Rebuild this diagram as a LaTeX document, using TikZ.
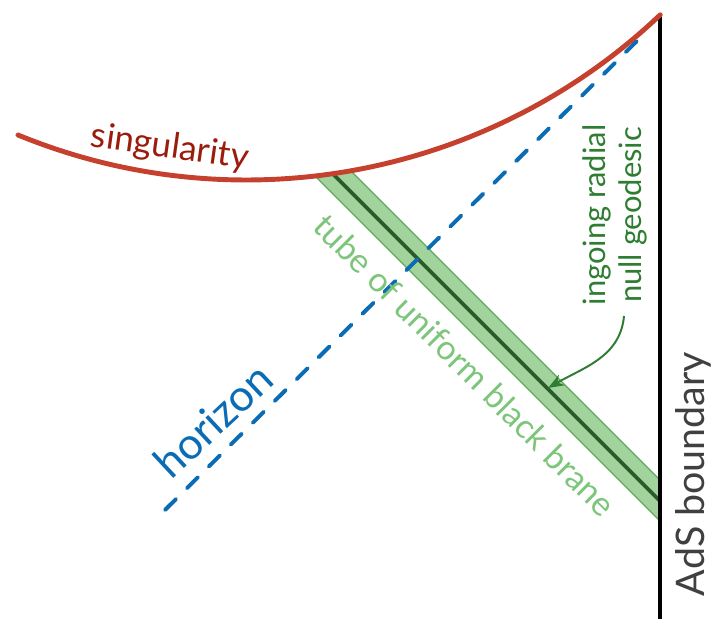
\documentclass[tikz,border=0pt]{standalone}
\usepackage{fontspec}
\setmainfont{Lato}
\usetikzlibrary{arrows.meta,positioning,calc}
\definecolor{singred}{HTML}{C5412E}
\definecolor{singtext}{HTML}{9B1C0C}
\definecolor{horblue}{HTML}{0A6CB5}
\definecolor{tubefill}{HTML}{A3D39C}
\definecolor{tubeedge}{HTML}{5FA85A}
\definecolor{tubetext}{HTML}{7DC57A}
\definecolor{geogreen}{HTML}{2E7D32}
\definecolor{geodark}{HTML}{2B5A2B}
\definecolor{bdrytext}{HTML}{404040}
\tikzset{
  lbl/.style={inner sep=0pt, align=center},
  sing/.style={singred, line width=3.5pt, line cap=round},
  bdry/.style={black, line width=3.2pt},
  hor/.style={horblue, line width=2.8pt, line cap=round, dash pattern=on 11pt off 11pt},
  tube/.style={fill=tubefill, draw=tubeedge, line width=0.8pt},
  geo/.style={geodark, line width=2.6pt},
  arr/.style={-{Stealth[length=4mm, width=3mm]}, geogreen, line width=1.4pt},
}

\begin{document}
\begin{tikzpicture}[x=0.025cm, y=0.025cm]
\useasboundingbox (0,0) rectangle (713,619);

% brane tube and its null geodesic
\coordinate (tubeA) at (317,441);
\coordinate (tubeB) at (351,448);
\coordinate (tubeC) at (660,139);
\coordinate (tubeD) at (660,98);
\filldraw[tube] (tubeA) -- (tubeB) -- (tubeC) -- (tubeD) -- cycle;
\coordinate (geotop) at (334,444);
\coordinate (geobot) at (660,118);
\draw[geo] (geotop) -- (geobot);

% horizon
\coordinate (horlow) at (165,109);
\coordinate (horhigh) at (640,581);
\draw[hor] (horlow) -- (horhigh);

% boundary
\coordinate (bdrytop) at (660,604);
\coordinate (bdrybot) at (660,0);
\draw[bdry] (bdrytop) -- (bdrybot);

% singularity
\coordinate (singL) at (18,484);
\draw[sing] (singL) arc[start angle=247.7, end angle=313.5, radius=601.5];

% labels
\node[lbl, singtext, rotate=-8, font=\fontsize{25}{28}\selectfont] (singlbl) at (170,471) {singularity};
\node[lbl, horblue, rotate=43, font=\fontsize{31}{34}\selectfont] (horlbl) at (213,199) {horizon};
\node[lbl, tubetext, rotate=-45, font=\fontsize{24}{27}\selectfont] (tubelbl) at (465,254) {tube of uniform black brane};
\node[lbl, geogreen, rotate=90, font=\fontsize{22}{26}\selectfont] (geolbl) at (615,404) {ingoing radial\\null geodesic};
\node[lbl, bdrytext, rotate=90, font=\fontsize{28}{31}\selectfont] (bdrylbl) at (693,145) {AdS boundary};

\coordinate (arrstart) at (624,303);
\coordinate (arrend) at (548,231);
\draw[arr] (arrstart) to[out=265, in=30] (arrend);

\end{tikzpicture}
\end{document}
